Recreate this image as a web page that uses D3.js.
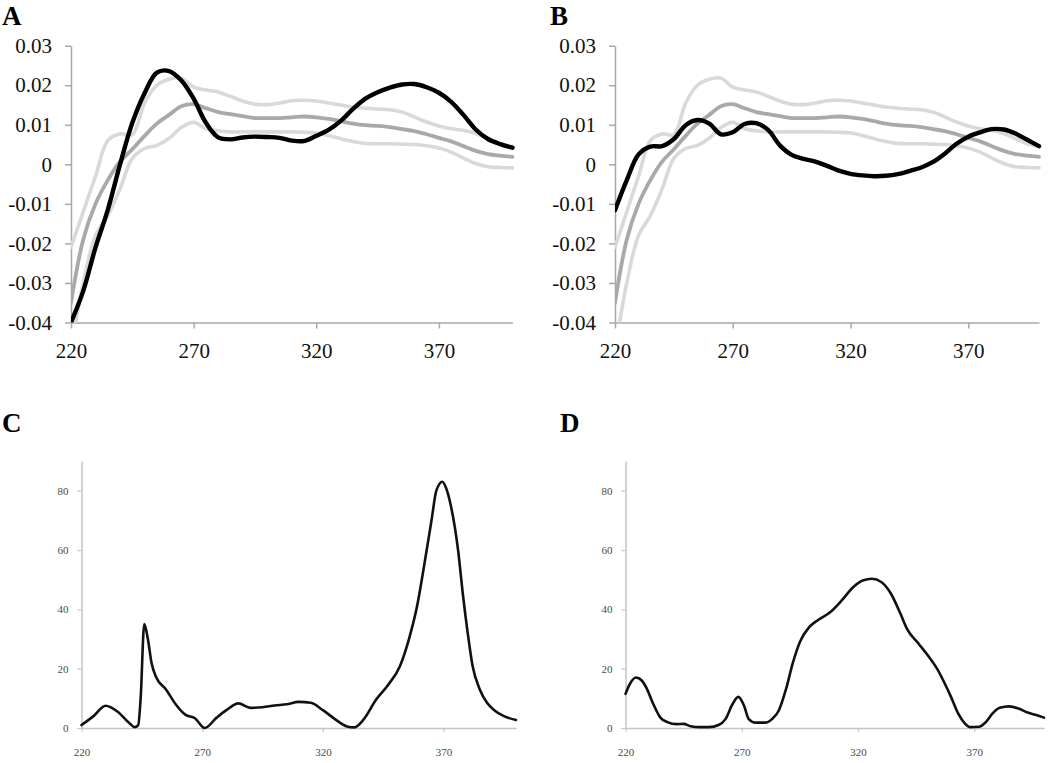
<!DOCTYPE html>
<html>
<head>
<meta charset="utf-8">
<script src="https://cdn.jsdelivr.net/npm/d3@7/dist/d3.min.js"></script>
<style>
  html, body { margin: 0; padding: 0; background: #fff; }
  svg { display: block; }
  .serif text, text.serif { font-family: "Liberation Serif", "Times New Roman", serif; }
</style>
</head>
<body>
<svg id="chart" width="1050" height="763"></svg>
<script>
// ---------------- DATA ----------------
const wavelengths = [220,225,230,235,240,245,250,255,260,265,270,275,280,285,290,295,300,305,310,315,320,325,330,335,340,345,350,355,360,365,370,375,380,385,390,395,400];

// Panel A: sample spectrum (black)
const sampleA = [-0.040,-0.032,-0.021,-0.0115,0.000,0.0105,0.018,0.0232,0.0236,0.0212,0.0166,0.0105,0.0068,0.0063,0.0068,0.0070,0.0069,0.0067,0.0060,0.0059,0.0072,0.0087,0.0110,0.0140,0.0166,0.0182,0.0194,0.0202,0.0203,0.0195,0.0181,0.0158,0.0125,0.0088,0.0064,0.0051,0.0042];

// Panel B: sample spectrum (black)
const sampleB = [-0.0116,-0.0040,0.0025,0.0045,0.0046,0.0064,0.0099,0.0112,0.0103,0.0076,0.0081,0.0102,0.0104,0.0087,0.0048,0.0024,0.0014,0.0007,-0.0004,-0.0016,-0.0024,-0.0028,-0.0030,-0.0029,-0.0025,-0.0017,-0.0008,0.0006,0.0027,0.0052,0.0070,0.0081,0.0089,0.0088,0.0078,0.0062,0.0046];

// Reference mean (medium gray) and envelope (light gray), same in A and B
const refMean = [-0.035,-0.019,-0.010,-0.004,0.0007,0.0038,0.0072,0.0103,0.0125,0.0147,0.0152,0.0142,0.0132,0.0127,0.0122,0.0117,0.0117,0.0117,0.0119,0.0121,0.0119,0.0115,0.0109,0.0103,0.0099,0.0097,0.0094,0.0089,0.0084,0.0076,0.0067,0.0058,0.0046,0.0034,0.0026,0.0022,0.0019];
const refUpper = [-0.021,-0.012,-0.003,0.006,0.0077,0.0075,0.0155,0.0200,0.0215,0.0218,0.0195,0.0188,0.0183,0.0172,0.0160,0.0152,0.0151,0.0155,0.0161,0.0162,0.0160,0.0155,0.0150,0.0145,0.0142,0.0140,0.0138,0.0132,0.0120,0.0107,0.0097,0.0090,0.0086,0.0078,0.0065,0.0052,0.0045];
const refLower = [-0.047,-0.030,-0.018,-0.013,-0.0062,0.0015,0.0040,0.0048,0.0066,0.0093,0.0106,0.0090,0.0085,0.0082,0.0082,0.0082,0.0082,0.0082,0.0082,0.0081,0.0079,0.0073,0.0065,0.0058,0.0053,0.0052,0.0052,0.0051,0.0050,0.0047,0.0041,0.0031,0.0016,0.0002,-0.0006,-0.0008,-0.0009];

// Panel C
const cWavelengths = [220,225,230,235,240,242,243.5,244.5,246,247.5,249,251,255,259,263,267,271,276,280,285,290,295,300,305,310,315,320,325,330,333,337,342,347,352,356,359,362,365,367,369.5,371,373,376,378,380,382,385,388,391,395,400];
const cValues = [1,4,7.5,5.5,1.5,0.3,1,10,35,30,22,17,13,8,4.5,3.3,0,3.5,6,8.3,6.8,7,7.6,8,8.8,8.5,6,3,0.5,0.2,3,9.5,14.5,21,31,41,55,70,80,83,81,75,60,45,32,21,13,8.5,6,4,2.7];

// Panel D
const dWavelengths = [220,222,224.5,227,229,232,235,238,242,245,248,252,256,260,263,266,268.5,271,273,276,280,283,286,289,292,295,299,303,308,313,318,322,326,330,334,338,341,346,350,354,357,360,363,366,368,372,375,378,381,385,389,393,397,400];
const dValues = [11.5,15,17,16,13.5,8,3.5,2,1.3,1.4,0.6,0.3,0.3,1,3,8,10.5,7.5,3,1.8,1.8,3,6,13,22,29,34,36.5,39,43,47.5,49.7,50.3,49.2,45.5,39,33.5,28.5,24.5,20,15.5,10.5,5,1.5,0.3,0.4,2,5,6.8,7.3,6.6,5.2,4.3,3.5];

// Ticks
const xTicks = [220,270,320,370];
const abYTicks = [-0.04,-0.03,-0.02,-0.01,0,0.01,0.02,0.03];
const cdYTicks = [0,20,40,60,80];
const panelLetters = ["A","B","C","D"];

// ---------------- DRAW ----------------
const SERIF = "'Liberation Serif', 'Times New Roman', serif";
const svg = d3.select("#chart");
const defs = svg.append("defs");

function zip(xs, ys) { return xs.map((x, i) => [x, ys[i]]); }

function makeScales(opts) {
  const g = svg.append("g");
  const x = d3.scaleLinear().domain([220, 400]).range([opts.x0, opts.x1]);
  const y = d3.scaleLinear().domain(opts.yDomain).range([opts.yBottom, opts.yTop]);
  return {g, x, y};
}

function letter(opts) {
  svg.append("text").attr("class", "serif").attr("x", opts.lx).attr("y", opts.ly)
    .attr("font-family", SERIF)
    .attr("font-weight", "bold").attr("font-size", 27).attr("fill", "#000")
    .text(opts.letter);
}

function drawAB(opts) {
  const {g, x, y} = makeScales(opts);
  const clipId = "clip" + opts.letter;
  defs.append("clipPath").attr("id", clipId)
    .append("rect")
    .attr("x", opts.x0).attr("y", opts.yTop - 10)
    .attr("width", opts.x1 - opts.x0 + 4).attr("height", opts.yBottom - opts.yTop + 10);

  const ya = g.append("g").attr("class", "serif").attr("transform", `translate(${opts.x0},0)`)
    .call(d3.axisLeft(y).tickValues(abYTicks).tickSize(6).tickSizeOuter(0).tickPadding(13)
      .tickFormat(v => Math.abs(v) < 1e-9 ? "0" : v.toFixed(2)));
  const xa = g.append("g").attr("class", "serif").attr("transform", `translate(0,${opts.yBottom})`)
    .call(d3.axisBottom(x).tickValues(xTicks).tickSize(6).tickSizeOuter(0).tickPadding(15).tickFormat(d3.format("d")));
  [ya, xa].forEach(a => {
    a.attr("font-family", SERIF).attr("font-size", 21);
    a.select(".domain").attr("stroke", "#a9a9a9").attr("stroke-width", 1.5);
    a.selectAll(".tick line").attr("stroke", "#a9a9a9").attr("stroke-width", 1.5);
    a.selectAll("text").attr("font-family", SERIF).attr("font-size", 21).attr("fill", "#111");
  });

  const line = d3.line().x(d => x(d[0])).y(d => y(d[1])).curve(d3.curveCatmullRom.alpha(0.5));
  const lines = g.append("g").attr("clip-path", `url(#${clipId})`);
  const series = [
    {vals: refUpper, color: "#d9d9d9", w: 3.6},
    {vals: refLower, color: "#d9d9d9", w: 3.6},
    {vals: refMean, color: "#a8a9ab", w: 3.8},
    {vals: opts.sample, color: "#000000", w: 4.4}
  ];
  series.forEach(s => {
    lines.append("path").datum(zip(wavelengths, s.vals))
      .attr("d", line).attr("fill", "none")
      .attr("stroke", s.color).attr("stroke-width", s.w)
      .attr("stroke-linejoin", "round").attr("stroke-linecap", "round");
  });
  letter(opts);
}

function drawCD(opts) {
  const {g, x, y} = makeScales(opts);
  const ya = g.append("g").attr("class", "serif").attr("transform", `translate(${opts.x0},0)`)
    .call(d3.axisLeft(y).tickValues(cdYTicks).tickSize(4).tickSizeOuter(0).tickPadding(9).tickFormat(d3.format("d")));
  const xa = g.append("g").attr("class", "serif").attr("transform", `translate(0,${opts.yBottom})`)
    .call(d3.axisBottom(x).tickValues(xTicks).tickSize(4).tickSizeOuter(0).tickPadding(16).tickFormat(d3.format("d")));
  [ya, xa].forEach(a => {
    a.attr("font-family", SERIF).attr("font-size", 11);
    a.select(".domain").attr("stroke", "#c4c4c4").attr("stroke-width", 1.5);
    a.selectAll(".tick line").attr("stroke", "#c4c4c4").attr("stroke-width", 1.2);
    a.selectAll("text").attr("font-family", SERIF).attr("font-size", 11).attr("fill", "#4a4a4a");
  });
  const line = d3.line().x(d => x(d[0])).y(d => y(d[1])).curve(d3.curveMonotoneX);
  g.append("path").datum(zip(opts.xs, opts.ys))
    .attr("d", line).attr("fill", "none")
    .attr("stroke", "#111").attr("stroke-width", 2.6)
    .attr("stroke-linejoin", "round").attr("stroke-linecap", "round");
  letter(opts);
}

drawAB({letter: panelLetters[0], sample: sampleA, x0: 71, x1: 512.5, yTop: 45.7, yBottom: 322.5, yDomain: [-0.04, 0.03], lx: 2, ly: 25});
drawAB({letter: panelLetters[1], sample: sampleB, x0: 615, x1: 1039, yTop: 45.7, yBottom: 322.5, yDomain: [-0.04, 0.03], lx: 550, ly: 25});
drawCD({letter: panelLetters[2], xs: cWavelengths, ys: cValues, x0: 81.5, x1: 516, yTop: 461, yBottom: 728, yDomain: [0, 90], lx: 2, ly: 432});
drawCD({letter: panelLetters[3], xs: dWavelengths, ys: dValues, x0: 625.5, x1: 1044, yTop: 461, yBottom: 728, yDomain: [0, 90], lx: 560, ly: 432});
</script>
</body>
</html>
